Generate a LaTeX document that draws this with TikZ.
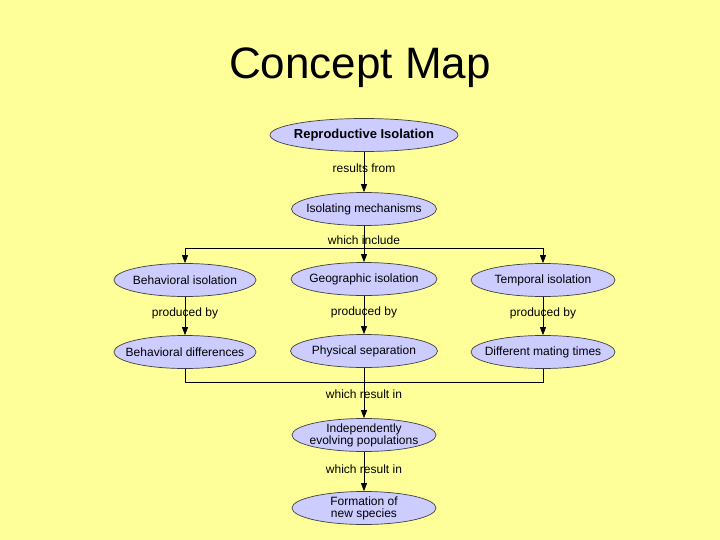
\documentclass[tikz,border=0pt]{standalone}
\usepackage{fontspec}
\setmainfont{Liberation Sans}
\usetikzlibrary{shapes.geometric,arrows.meta}
\definecolor{bg}{RGB}{255,255,153}
\definecolor{lav}{RGB}{204,204,255}
\begin{document}
\begin{tikzpicture}[x=1pt,y=-1pt,
  concept/.style={ellipse, draw=black!75, line width=0.7pt, fill=lav, inner sep=0pt,
    minimum width=145pt, minimum height=33pt},
  ctext/.style={font=\fontsize{12}{12}\selectfont, align=center, inner sep=0pt},
  lbl/.style={font=\fontsize{12}{13}\selectfont, inner sep=1pt},
  conn/.style={draw=black, line width=0.8pt},
  arr/.style={conn, -{Triangle[length=8pt,width=6pt]}}]
\fill[bg] (0,0) rectangle (720,540);
\useasboundingbox (0,0) rectangle (720,540);
\node[font=\fontsize{44}{48}\selectfont] (title) at (360,68) {Concept Map};
% nodes
\node[concept, minimum width=188pt, label={[ctext, font=\bfseries\fontsize{13}{14}\selectfont]center:Reproductive Isolation}] (rep) at (364,135) {};
\node[concept, label={[ctext]center:Isolating mechanisms}] (iso) at (364,209) {};
\node[concept, minimum width=142pt, label={[ctext]center:Behavioral isolation}] (beh) at (185,280) {};
\node[concept, minimum width=146pt, label={[ctext]center:Geographic isolation}] (geo) at (364,279) {};
\node[concept, minimum width=144pt, label={[ctext]center:Temporal isolation}] (tem) at (543,280) {};
\node[concept, minimum width=142pt, label={[ctext]center:Behavioral differences}] (bdiff) at (185,352) {};
\node[concept, minimum width=147pt, label={[ctext]center:Physical separation}] (phys) at (364,351) {};
\node[concept, minimum width=144pt, label={[ctext]center:Different mating times}] (dmt) at (543,352) {};
\node[concept, minimum width=144pt, label={[ctext]center:{Independently\\evolving populations}}] (indep) at (364,435) {};
\node[concept, minimum width=144pt, label={[ctext]center:{Formation of\\new species}}] (form) at (364,508) {};
% junctions
\coordinate (j1) at (364,248);
\coordinate (jl) at (185,248);
\coordinate (jr) at (543,248);
\coordinate (jb) at (364,382);
% connectors
\draw[arr] (rep) -- (iso);
\draw[conn] (iso) -- (j1);
\draw[conn] (jl) -- (jr);
\draw[arr] (jl) -- (beh.north);
\draw[arr] (j1) -- (geo.north);
\draw[arr] (jr) -- (tem.north);
\draw[arr] (beh) -- (bdiff);
\draw[arr] (geo) -- (phys);
\draw[arr] (tem) -- (dmt);
\draw[conn] (bdiff.south) -- (bdiff.south |- jb) -- (dmt.south |- jb) -- (dmt.south);
\draw[conn] (phys.south) -- (jb);
\draw[arr] (jb) -- (indep);
\draw[arr] (indep) -- (form);
% labels
\node[lbl] (l1) at (364,168) {results from};
\node[lbl] (l2) at (364,240) {which include};
\node[lbl] (l3) at (185,313) {produced by};
\node[lbl] (l4) at (364,312) {produced by};
\node[lbl] (l5) at (543,313) {produced by};
\node[lbl] (l6) at (364,394) {which result in};
\node[lbl] (l7) at (364,469) {which result in};
\end{tikzpicture}
\end{document}
